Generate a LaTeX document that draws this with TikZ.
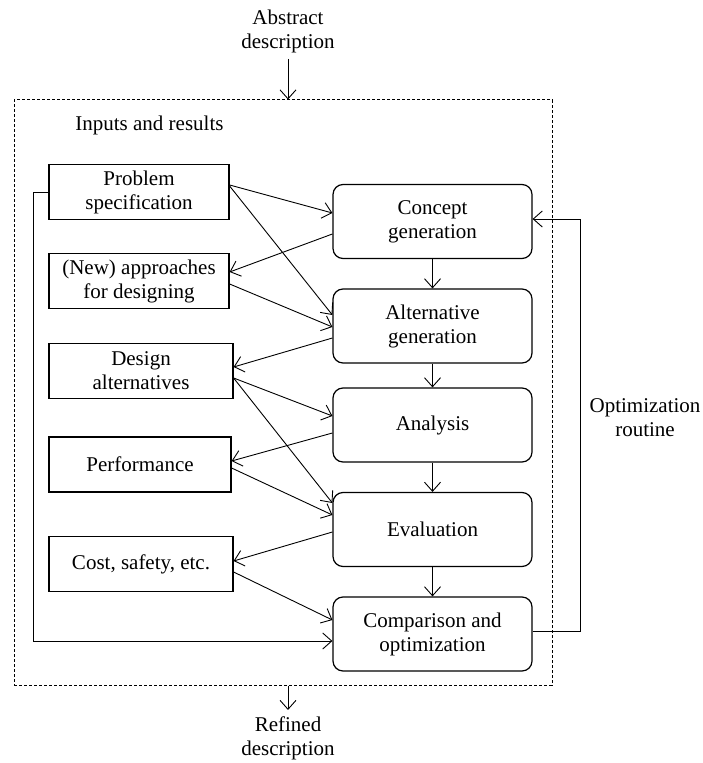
\documentclass[tikz,border=0pt]{standalone}
\usepackage{fontspec}
\setmainfont{Liberation Serif}
\usetikzlibrary{arrows.meta,calc}

\tikzset{
	inbox/.style={draw, line width=0.6pt, minimum height=27.5pt, align=center, inner sep=2pt},
	stepbox/.style={draw, line width=0.6pt, rounded corners=5pt, minimum width=99.5pt, minimum height=37pt, align=center},
	arr/.style={-{Straight Barb[length=4.5pt,width=8pt]}, line width=0.45pt},
	plain/.style={align=center, inner sep=3pt}
}

\begin{document}
\begin{tikzpicture}[x=0.5pt,y=-0.5pt,font=\fontsize{10.5}{12}\selectfont]
	\useasboundingbox (0,0) rectangle (702,763);
	
	% frame and outer texts
	\node[draw, line width=0.5pt, dash pattern=on 1.5pt off 1pt, minimum width=269pt, minimum height=292.5pt, inner sep=0pt] (frame) at (283,392.5) {};
	\node[plain] (abs) at (288,31) {Abstract\\description};
	\node[plain] (ref) at (288,738) {Refined\\description};
	\node[anchor=west, inner sep=0pt] (inres) at (75,125) {Inputs and results};
	\node[plain] (optr) at (645,418) {Optimization\\routine};
	
	% inputs and results
	\node[inbox, minimum width=90pt] (prob) at (139,192) {Problem\\specification};
	\node[inbox, minimum width=90pt] (appr) at (139,281) {(New) approaches\\for designing};
	\node[inbox, minimum width=92pt] (alts) at (141,371) {Design\\alternatives};
	\node[inbox, minimum width=91pt] (perf) at (140,464.5) {Performance};
	\node[inbox, minimum width=92pt] (cost) at (141,564) {Cost, safety, etc.};
	
	% steps
	\node[stepbox] (conc) at (432.5,221.5) {Concept\\generation};
	\node[stepbox] (altg) at (432.5,326) {Alternative\\generation};
	\node[stepbox] (anal) at (432.5,425) {Analysis};
	\node[stepbox] (eval) at (432.5,529.5) {Evaluation};
	\node[stepbox] (comp) at (432.5,634) {Comparison and\\optimization};
	
	\draw[arr] (abs.south) -- (abs.south |- frame.north);
	\draw[arr] (ref.north |- frame.south) -- (ref.north);
	
	\draw[arr] (conc) -- (altg);
	\draw[arr] (altg) -- (anal);
	\draw[arr] (anal) -- (eval);
	\draw[arr] (eval) -- (comp);
	
	\draw[arr] ($(prob.east)+(0,-7)$) -- ($(conc.west)+(0,-8.5)$);
	\draw[arr] ($(prob.east)+(0,-6)$) -- ($(altg.west)+(0,-11)$);
	\draw[arr] ($(conc.west)+(0,12.5)$) -- ($(appr.east)+(0,-9)$);
	\draw[arr] ($(appr.east)+(0,3)$) -- ($(altg.west)+(0,1)$);
	\draw[arr] ($(altg.west)+(0,12)$) -- ($(alts.east)+(0,-4)$);
	\draw[arr] ($(alts.east)+(0,7)$) -- ($(anal.west)+(0,-9)$);
	\draw[arr] ($(alts.east)+(0,7)$) -- ($(eval.west)+(0,-26.5)$);
	\draw[arr] ($(anal.west)+(0,8)$) -- ($(perf.east)+(0,-3.5)$);
	\draw[arr] ($(perf.east)+(0,3.5)$) -- ($(eval.west)+(0,-14.5)$);
	\draw[arr] ($(eval.west)+(0,2.5)$) -- ($(cost.east)+(0,-3)$);
	\draw[arr] ($(cost.east)+(0,8)$) -- ($(comp.west)+(0,-14)$);
	
	\draw[arr] (prob.west) -- ++(-15,0) |- ($(comp.west)+(0,7)$);
	\draw[arr] ($(comp.east)+(0,-3)$) -- ++(48,0) |- ($(conc.east)+(0,-2.5)$);
\end{tikzpicture}
\end{document}
